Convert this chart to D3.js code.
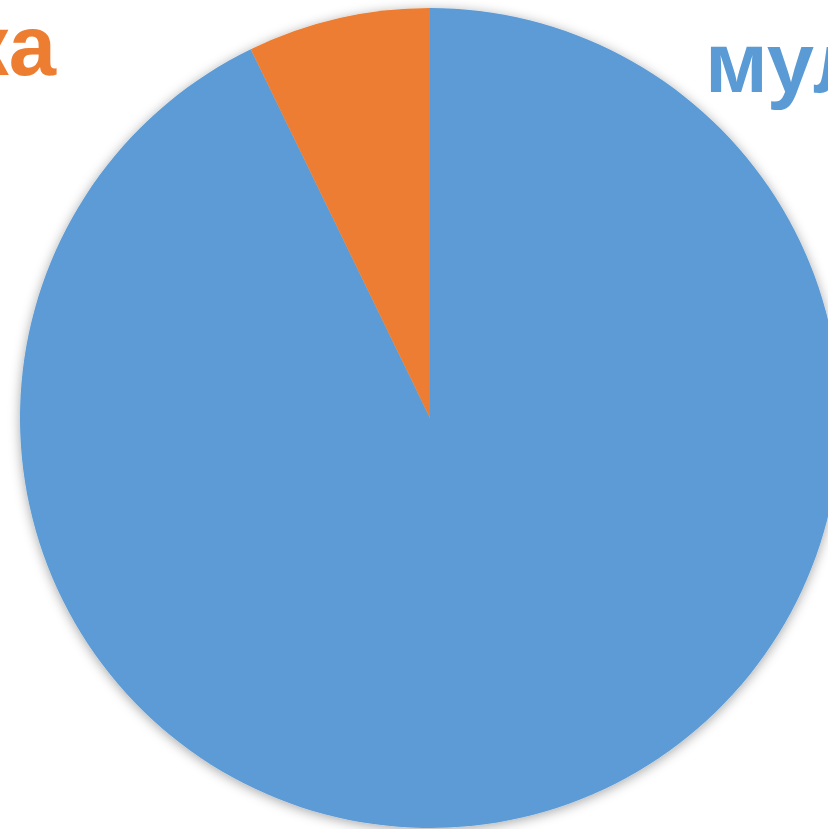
<!DOCTYPE html>
<html>
<head>
<meta charset="utf-8">
<script src="https://cdn.jsdelivr.net/npm/d3@7"></script>
<style>
  body { margin: 0; background: #fff; overflow: hidden; }
  svg { display: block; }
</style>
</head>
<body>
<div id="chart"></div>
<script>
// data
var categories = ["мултилингвални", "Азбука"];
var values = [92.8, 7.2];
var colors = ["#5B9BD5", "#ED7D31"];

var w = 828, h = 829;
var cx = 430, cy = 418, r = 410;

var svg = d3.select("#chart").append("svg")
    .attr("width", w)
    .attr("height", h);

// soft shadow round the pie
var defs = svg.append("defs");
var f = defs.append("filter")
    .attr("id", "shadow")
    .attr("x", "-10%").attr("y", "-10%")
    .attr("width", "120%").attr("height", "120%");
f.append("feDropShadow")
    .attr("dx", 0).attr("dy", 2)
    .attr("stdDeviation", 6)
    .attr("flood-color", "#000")
    .attr("flood-opacity", 0.35);

var pie = d3.pie().sort(null).value(function(d) { return d; });
var arc = d3.arc().innerRadius(0).outerRadius(r);

var g = svg.append("g")
    .attr("transform", "translate(" + cx + "," + cy + ")")
    .attr("filter", "url(#shadow)");

g.selectAll("path")
    .data(pie(values))
    .enter()
    .append("path")
        .attr("d", arc)
        .attr("fill", function(d, i) { return colors[i]; });

// labels (clipped by the frame like in the reference)
svg.append("text")
    .attr("x", 705)
    .attr("y", 92)
    .attr("font-family", "Liberation Sans, Arial, sans-serif")
    .attr("font-weight", "bold")
    .attr("font-size", 85)
    .attr("fill", colors[0])
    .text(categories[0]);

svg.append("text")
    .attr("x", 56)
    .attr("y", 75)
    .attr("text-anchor", "end")
    .attr("font-family", "Liberation Sans, Arial, sans-serif")
    .attr("font-weight", "bold")
    .attr("font-size", 85)
    .attr("fill", colors[1])
    .text(categories[1]);
</script>
</body>
</html>
